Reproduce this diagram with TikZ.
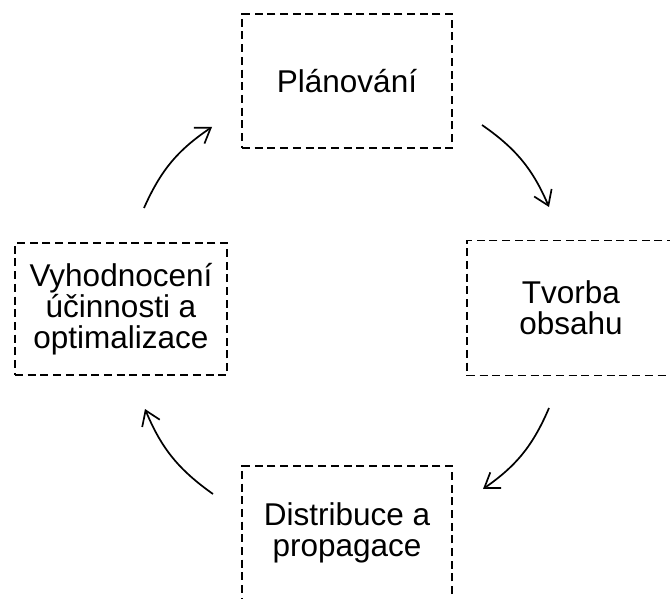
\documentclass[tikz,border=0pt]{standalone}
\usepackage{fontspec}
\setmainfont{Liberation Sans}
\usetikzlibrary{arrows.meta}

\tikzset{
    stage/.style={draw, dash pattern=on 8pt off 4.7pt, line width=1.7pt,
        align=center, inner sep=0pt, font=\fontsize{31.5}{31}\selectfont},
    cycarrow/.style={-{Straight Barb[length=14pt,width=19pt]}, line width=1.7pt}
}

\begin{document}
\begin{tikzpicture}[x=1pt, y=-1pt]
\useasboundingbox (0, 0) rectangle (670, 599);
\clip (0, 0) rectangle (670, 599);

%% 四个阶段
\node [stage, minimum width=210pt, minimum height=134pt] (plan) at (347, 81) {Plánování};
\node [stage, minimum width=208pt, minimum height=135pt] (tvorba) at (571, 308) {Tvorba\\obsahu};
\node [stage, minimum width=210pt, minimum height=134pt] (distrib) at (347, 533) {Distribuce a\\propagace};
\node [stage, minimum width=212pt, minimum height=132pt] (vyhod) at (121, 309) {Vyhodnocení\\účinnosti a\\optimalizace};

%% 箭头的端点
\coordinate (plantvorba1) at (482, 125);
\coordinate (plantvorba2) at (549, 207);
\coordinate (tvorbadistrib1) at (549, 408);
\coordinate (tvorbadistrib2) at (483, 489);
\coordinate (distribvyhod1) at (213, 494);
\coordinate (distribvyhod2) at (145, 409);
\coordinate (vyhodplan1) at (144, 208);
\coordinate (vyhodplan2) at (212, 127);

%% 顺时针的循环箭头
\foreach \x in {plantvorba, tvorbadistrib, distribvyhod, vyhodplan}
{
    \draw [cycarrow] (\x1) to [bend left=16] (\x2);
}

\end{tikzpicture}
\end{document}
